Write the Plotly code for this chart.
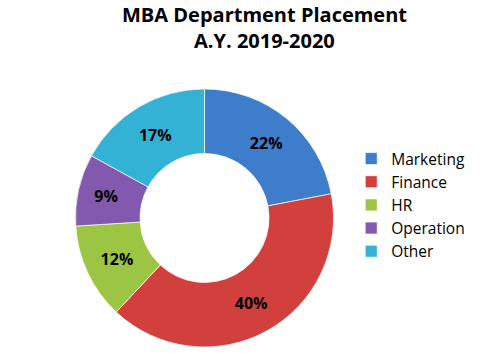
import plotly.graph_objects as go

departments = ["Marketing", "Finance", "HR", "Operation", "Other"]
shares = [22, 40, 12, 9, 17]
colors = ["#3E7DCC", "#D2403D", "#9DC544", "#8259AE", "#34B2D6"]
title_lines = ["MBA Department Placement", "A.Y. 2019-2020"]

fig = go.Figure(go.Pie(
    labels=departments,
    values=shares,
    sort=False,
    direction="clockwise",
    rotation=0,
    hole=0.5,
    marker=dict(colors=colors, line=dict(color="rgba(255,255,255,0.7)", width=1)),
    texttemplate="%{value}%",
    textposition="inside",
    insidetextorientation="horizontal",
    textfont=dict(family="Open Sans", size=16, color="black", weight="bold"),
    domain=dict(x=[0.152, 0.676], y=[0.017, 0.748]),
    hoverinfo="label+percent",
))

for i, line in enumerate(title_lines):
    fig.add_annotation(
        text=line, xref="paper", yref="paper",
        x=0.535, y=1 - (14 + 26 * i) / 353, xanchor="center", yanchor="middle",
        showarrow=False,
        font=dict(family="Open Sans", size=20, color="black", weight="bold"),
    )

fig.update_layout(
    width=494, height=353,
    margin=dict(l=0, r=0, t=0, b=0),
    paper_bgcolor="white",
    plot_bgcolor="white",
    legend=dict(
        x=0.711, y=1 - 205 / 353, xanchor="left", yanchor="middle",
        font=dict(family="Open Sans", size=15.5, color="black"),
        itemwidth=30,
        tracegroupgap=0,
    ),
)

fig.write_html("out.html")
